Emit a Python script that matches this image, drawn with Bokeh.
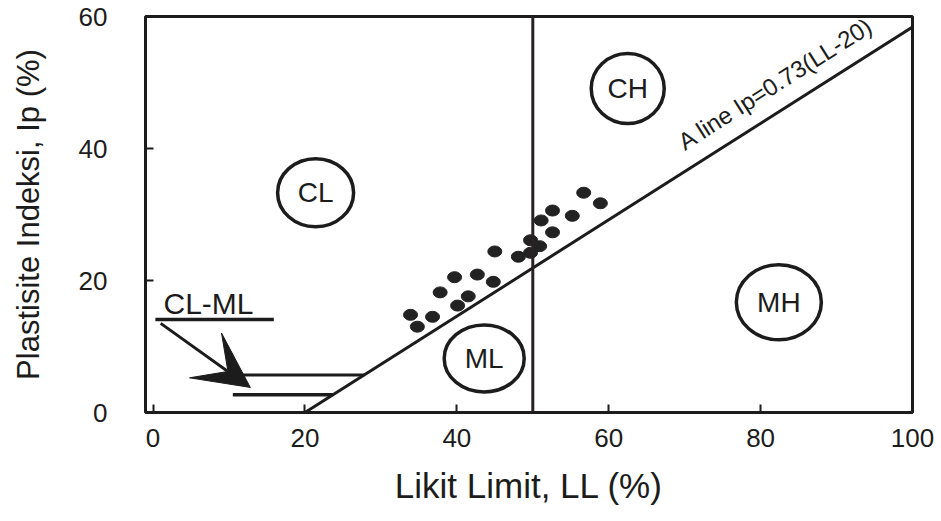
from bokeh.plotting import figure
from bokeh.models import Range1d, FixedTicker, Arrow, VeeHead, Label, Span
from bokeh.embed import file_html
from bokeh.resources import INLINE

# ---- data ----
ll_points = [33.9, 34.8, 36.8, 37.8, 39.7, 40.1, 41.5, 42.7, 44.8, 45.0, 48.1,
             49.7, 49.7, 50.9, 51.1, 52.6, 52.6, 55.2, 56.7, 58.9]
pi_points = [14.8, 13.0, 14.5, 18.2, 20.5, 16.2, 17.6, 20.9, 19.8, 24.4, 23.6,
             26.1, 24.2, 25.2, 29.1, 30.6, 27.3, 29.8, 33.3, 31.7]

aline_ll = [20, 100]
aline_pi = [0, 58.4]

band_upper_ll = [11.5, 27.8]
band_upper_pi = [5.7, 5.7]
band_lower_ll = [10.5, 23.7]
band_lower_pi = [2.7, 2.7]

clml_under_ll = [0.3, 15.9]
clml_under_pi = [14.1, 14.1]

region_names = ["CL", "CH", "ML", "MH"]
region_ll = [21.4, 62.5, 43.6, 82.4]
region_pi = [33.3, 49.1, 8.2, 16.7]

x_ticks = [0, 20, 40, 60, 80, 100]
y_ticks = [0, 20, 40, 60]

FONT = "Liberation Sans"
INK = "#1c1c1c"

p = figure(width=936, height=518, x_range=Range1d(-1, 100), y_range=Range1d(0, 60),
           output_backend="svg", toolbar_location=None,
           min_border_left=145, min_border_right=24, min_border_top=16, min_border_bottom=106)

p.xgrid.visible = False
p.ygrid.visible = False
p.outline_line_color = INK
p.outline_line_width = 3
p.background_fill_color = "white"
p.border_fill_color = "white"

p.xaxis.ticker = FixedTicker(ticks=x_ticks)
p.yaxis.ticker = FixedTicker(ticks=y_ticks)
for ax in (p.xaxis[0], p.yaxis[0]):
    ax.axis_line_color = None
    ax.major_tick_in = 8
    ax.major_tick_out = 0
    ax.major_tick_line_width = 2
    ax.major_tick_line_color = INK
    ax.minor_tick_line_color = None
    ax.major_label_text_font = FONT
    ax.major_label_text_font_size = "26px"
    ax.major_label_text_color = INK
    ax.axis_label_text_font = FONT
    ax.axis_label_text_font_style = "normal"
    ax.axis_label_text_color = INK

p.xaxis.axis_label = "Likit Limit, LL (%)"
p.yaxis.axis_label = "Plastisite Indeksi, Ip (%)"
p.xaxis.axis_label_text_font_size = "35px"
p.yaxis.axis_label_text_font_size = "31px"
p.xaxis.major_label_standoff = 16
p.xaxis.axis_label_standoff = 16
p.yaxis.major_label_standoff = 38
p.yaxis.axis_label_standoff = 30

# LL = 50 divider
p.add_layout(Span(location=50, dimension="height", line_color="#2a2222", line_width=3))

# A-line
p.line(aline_ll, aline_pi, line_color=INK, line_width=3)

# CL-ML band lines
p.line(band_upper_ll, band_upper_pi, line_color=INK, line_width=3)
p.line(band_lower_ll, band_lower_pi, line_color=INK, line_width=3.5)
p.line(clml_under_ll, clml_under_pi, line_color=INK, line_width=3.5)

p.add_layout(Arrow(end=VeeHead(size=55, fill_color=INK, line_color=INK),
                   x_start=1.0, y_start=13.5, x_end=12.8, y_end=3.8,
                   line_color=INK, line_width=3))

p.add_layout(Label(x=7.3, y=16.5, text="CL-ML", text_align="center", text_baseline="middle",
                   text_font=FONT, text_font_size="30px", text_color=INK))

# region ellipses + labels
p.ellipse(x=region_ll, y=region_pi, width=[76, 73, 80, 85], height=[68, 70, 67, 75],
          width_units="screen", height_units="screen",
          fill_color=None, line_color=INK, line_width=3.5)
for name, x, y in zip(region_names, region_ll, region_pi):
    p.add_layout(Label(x=x, y=y, text=name, text_align="center", text_baseline="middle",
                       text_font=FONT, text_font_size="28px", text_color=INK))

# A-line label
p.add_layout(Label(x=70.4, y=39.0, text="A line Ip=0.73(LL-20)", angle=0.565,
                   text_align="left", text_baseline="bottom",
                   text_font=FONT, text_font_size="24px", text_color=INK))

# data points
p.ellipse(x=ll_points, y=pi_points, width=14, height=11,
          width_units="screen", height_units="screen",
          fill_color="#222222", line_color="#222222")

open("out.html", "w").write(file_html(p, INLINE))
